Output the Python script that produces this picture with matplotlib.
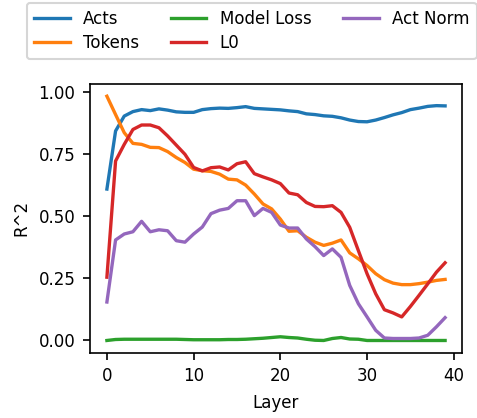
import numpy as np
import matplotlib
matplotlib.use("Agg")
import matplotlib.pyplot as plt

plt.rcParams["font.size"] = 8

layers = np.arange(40)

acts = [0.610, 0.844, 0.904, 0.922, 0.930, 0.926, 0.933, 0.928, 0.921, 0.919,
        0.919, 0.930, 0.934, 0.936, 0.935, 0.938, 0.942, 0.935, 0.933, 0.931,
        0.929, 0.925, 0.922, 0.913, 0.910, 0.905, 0.903, 0.897, 0.888, 0.882,
        0.881, 0.888, 0.898, 0.909, 0.918, 0.930, 0.936, 0.943, 0.946, 0.945]

tokens = [0.984, 0.910, 0.837, 0.794, 0.790, 0.778, 0.777, 0.761, 0.737, 0.717,
          0.690, 0.684, 0.681, 0.670, 0.650, 0.647, 0.626, 0.590, 0.550, 0.530,
          0.489, 0.440, 0.442, 0.416, 0.396, 0.383, 0.392, 0.405, 0.353, 0.329,
          0.302, 0.269, 0.245, 0.231, 0.225, 0.225, 0.229, 0.235, 0.242, 0.246]

model_loss = [0.000, 0.004, 0.005, 0.005, 0.005, 0.005, 0.005, 0.005, 0.005, 0.004,
              0.003, 0.003, 0.003, 0.003, 0.004, 0.004, 0.005, 0.007, 0.009, 0.012,
              0.015, 0.012, 0.010, 0.005, 0.001, 0.000, 0.008, 0.012, 0.006, 0.005,
              0.000, 0.000, 0.000, 0.000, 0.000, 0.000, 0.000, 0.000, 0.000, 0.000]

l0 = [0.255, 0.723, 0.790, 0.850, 0.868, 0.868, 0.857, 0.824, 0.787, 0.750,
      0.697, 0.683, 0.696, 0.699, 0.687, 0.712, 0.720, 0.672, 0.659, 0.647,
      0.632, 0.594, 0.587, 0.556, 0.540, 0.539, 0.543, 0.516, 0.456, 0.362,
      0.269, 0.188, 0.124, 0.111, 0.095, 0.137, 0.182, 0.228, 0.275, 0.313]

act_norm = [0.155, 0.405, 0.429, 0.438, 0.480, 0.438, 0.446, 0.442, 0.402, 0.396,
            0.429, 0.457, 0.511, 0.525, 0.532, 0.563, 0.563, 0.503, 0.532, 0.516,
            0.465, 0.453, 0.453, 0.409, 0.378, 0.342, 0.369, 0.335, 0.222, 0.148,
            0.095, 0.041, 0.010, 0.008, 0.008, 0.008, 0.010, 0.021, 0.055, 0.092]

series = [("Acts", acts), ("Tokens", tokens), ("Model Loss", model_loss),
          ("L0", l0), ("Act Norm", act_norm)]

W, H = 477, 418
dpi = 150
fig = plt.figure(figsize=(W / dpi, H / dpi), dpi=dpi)
ax = fig.add_axes([90 / W, 1 - 352.7 / H, (462 - 90) / W, (352.7 - 84) / H])

for name, vals in series:
    ax.plot(layers, vals, label=name, linewidth=1.6)

ax.set_xlabel("Layer")
ax.set_ylabel("R^2")
ax.set_xticks([0, 10, 20, 30, 40])
ax.set_yticks([0.0, 0.25, 0.5, 0.75, 1.0])

handles, labels = ax.get_legend_handles_labels()
fig.legend(handles, labels, ncol=3, loc="upper left",
           bbox_to_anchor=(27 / W, 1 - 3 / H), borderaxespad=0,
           handlelength=2.15, columnspacing=1.9, labelspacing=0.4)

fig.savefig("out.png", dpi=dpi)
